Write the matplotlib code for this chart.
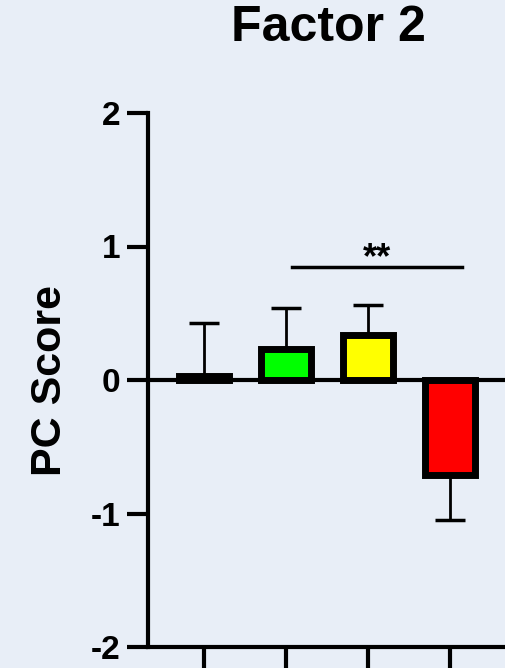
import matplotlib
matplotlib.use("Agg")
import matplotlib.pyplot as plt
import numpy as np

plt.rcParams['font.family'] = ['Liberation Sans', 'DejaVu Sans']
plt.rcParams['font.weight'] = 'bold'
plt.rcParams['axes.unicode_minus'] = False

# data
groups = ['G1', 'G2', 'G3', 'G4']
scores = [0.03, 0.23, 0.34, -0.71]
errors = [0.40, 0.31, 0.22, 0.34]
colors = ['white', '#00ff00', '#ffff00', '#ff0000']
sig_from, sig_to, sig_y, sig_text = 1.07, 3.15, 0.85, '**'

bg = '#e8eef7'
W, H = 505, 668
fig = plt.figure(figsize=(W / 100, H / 100), dpi=100, facecolor=bg)

# axes box in pixels: left spine x=148, ticks at 204..450, y=2 at 113, y=-2 at 647
left_px, right_px, top_px, bot_px = 148, 505, 113, 647
ax = fig.add_axes([left_px / W, 1 - bot_px / H, (right_px - left_px) / W, (bot_px - top_px) / H])
ax.set_facecolor(bg)

x = np.arange(len(groups))
step = 82.0
ax.set_xlim(-(204 - left_px) / step, 3 + (right_px - 450) / step)
ax.set_ylim(-2, 2)

# one-sided error bars, away from zero
lower = [e if s < 0 else 0 for s, e in zip(scores, errors)]
upper = [e if s >= 0 else 0 for s, e in zip(scores, errors)]
ax.errorbar(x, scores, yerr=[lower, upper], fmt='none', ecolor='black',
            elinewidth=2.0, capsize=11, capthick=2.5, zorder=1)

ax.bar(x, scores, width=0.62, color=colors, edgecolor='black', linewidth=5, zorder=2)

ax.axhline(0, color='black', linewidth=3, zorder=3)

# significance bar
ax.plot([sig_from, sig_to], [sig_y, sig_y], color='black', linewidth=2.5)
ax.text((sig_from + sig_to) / 2, sig_y - 0.01, sig_text, ha='center', va='baseline',
        fontsize=26, fontweight='bold')

for side in ['top', 'right']:
    ax.spines[side].set_visible(False)
for side in ['left', 'bottom']:
    ax.spines[side].set_linewidth(3)

ax.set_yticks([-2, -1, 0, 1, 2])
ax.set_xticks(x)
ax.set_xticklabels([])
ax.tick_params(axis='both', direction='out', length=15, width=3)
ax.tick_params(axis='y', labelsize=24, pad=5)
for lab in ax.get_yticklabels():
    lab.set_fontweight('bold')

ax.set_ylabel('PC Score', fontsize=31, fontweight='bold', labelpad=15)
fig.text(328 / W, 1 - 28 / H, 'Factor 2', ha='center', va='center',
         fontsize=36, fontweight='bold')

fig.savefig('out.png', dpi=100, facecolor=bg)
